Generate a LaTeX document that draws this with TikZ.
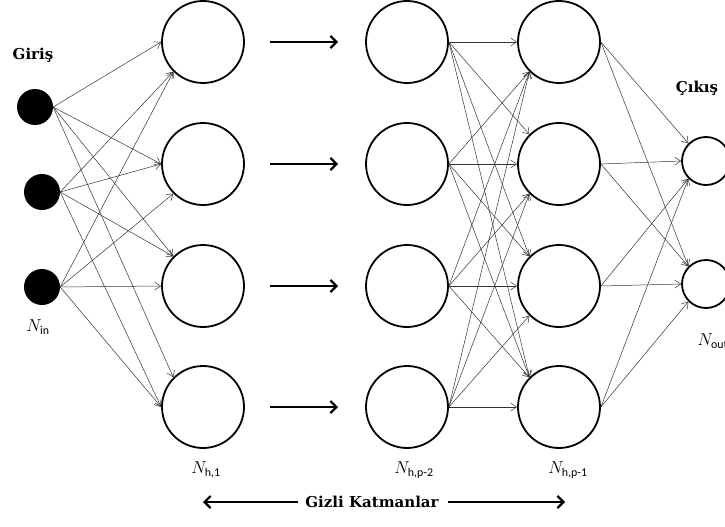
\documentclass[tikz,border=0pt]{standalone}
\usepackage{fontspec}
\usepackage{amsmath}
\usetikzlibrary{arrows.meta}
\newfontfamily\carl{Carlito}
\newfontfamily\titlefont{DejaVu Serif}
\begin{document}
\begin{tikzpicture}[x=1pt,y=-1pt,
  neuron/.style={circle,draw,line width=1.8pt,minimum size=82pt,inner sep=0pt},
  innode/.style={circle,fill=black,minimum size=36pt,inner sep=0pt},
  outnode/.style={circle,draw,line width=1.8pt,minimum size=48pt,inner sep=0pt},
  conn/.style={draw=black!80,line width=0.5pt,-{Straight Barb[length=6pt,width=8pt]}},
  bigarrow/.style={line width=2.2pt,-{Straight Barb[length=6pt,width=12pt]}},
  title/.style={font=\titlefont\bfseries\fontsize{15}{18}\selectfont},
  lbl/.style={font=\fontsize{17}{20}\selectfont}]
\useasboundingbox (0,0) rectangle (725,527);
% input nodes
\node[innode] (in-1) at (35,107) {};
\node[innode] (in-2) at (42,192) {};
\node[innode] (in-3) at (42,287) {};
% hidden layers
\foreach \r/\y in {1/42,2/164,3/286,4/407}{
  \node[neuron] (h1-\r) at (203,\y) {};
  \node[neuron] (pa-\r) at (407,\y) {};
  \node[neuron] (pb-\r) at (559,\y) {};
  \coordinate (ba-\r) at (270,\y);
  \coordinate (bb-\r) at (338,\y);
  \draw[bigarrow] (ba-\r) -- (bb-\r);
}
% output nodes
\node[outnode] (out-2) at (706,161) {};
\node[outnode] (out-3) at (706,284) {};
% connections input -> hidden 1 (source/target/anchor angle)
\foreach \i/\j/\ang in {1/1/180,2/1/225,3/1/225,
                        1/2/180,2/2/180,3/2/225,
                        1/3/135,2/3/135,3/3/180,
                        1/4/135,2/4/180,3/4/180}{
  \draw[conn] (in-\i.east) -- (h1-\j.\ang);
}
% connections p-2 -> p-1
\foreach \i in {1,2,3,4}{
  \foreach \j in {1,2,3,4}{
    \ifnum\i<\j \def\ang{135}\else\ifnum\i=\j \def\ang{180}\else\def\ang{225}\fi\fi
    \draw[conn] (pa-\i.east) -- (pb-\j.\ang);
  }
}
% connections p-1 -> output
\foreach \i in {1,2,3,4}{
  \foreach \j in {2,3}{
    \ifnum\i<\j \def\ang{135}\else\ifnum\i=\j \def\ang{180}\else\def\ang{225}\fi\fi
    \draw[conn] (pb-\i.east) -- (out-\j.\ang);
  }
}
% labels
\node[title] (giris) at (33,55) {Giriş};
\node[title] (cikis) at (697,88) {Çıkış};
\node[lbl] (nin) at (38,327) {$N_{\text{\carl in}}$};
\node[lbl,anchor=west] (nout) at (694,341) {$N_{\text{\carl out}}$};
\node[lbl] (nh1) at (206,470) {$N_{\text{\carl h,1}}$};
\node[lbl] (nhp2) at (414,470) {$N_{\text{\carl h,p-2}}$};
\node[lbl] (nhp1) at (568,470) {$N_{\text{\carl h,p-1}}$};
\node[title] (gizli) at (372,502) {Gizli Katmanlar};
\coordinate (gls) at (298,502);
\coordinate (gl) at (203,502);
\coordinate (grs) at (448,502);
\coordinate (gr) at (565,502);
\draw[bigarrow] (gls) -- (gl);
\draw[bigarrow] (grs) -- (gr);
\end{tikzpicture}
\end{document}
